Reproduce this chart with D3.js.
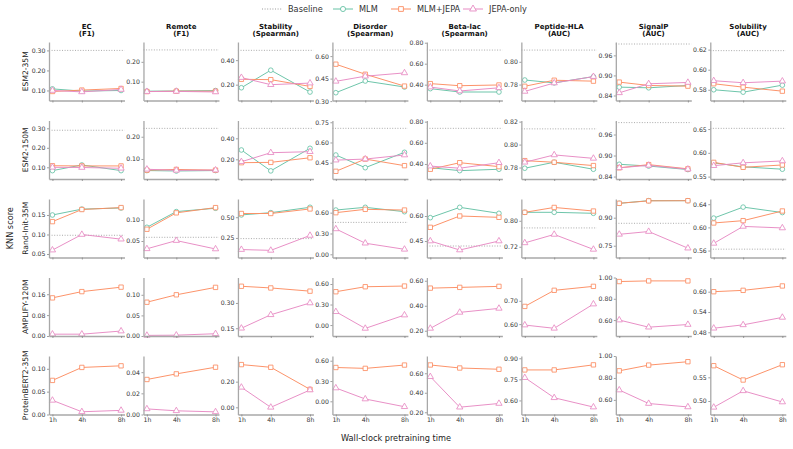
<!DOCTYPE html>
<html><head><meta charset="utf-8">
<script src="https://cdn.jsdelivr.net/npm/d3@7"></script>
<style>body{margin:0;background:#fff}svg{display:block}text{font-family:"DejaVu Sans",sans-serif}</style>
</head><body><svg id="c" width="793" height="449"></svg>
<script>
const tasks = ["EC","Remote","Stability","Disorder","Beta-lac","Peptide-HLA","SignalP","Solubility"];
const metrics = ["(F1)","(F1)","(Spearman)","(Spearman)","(Spearman)","(AUC)","(AUC)","(AUC)"];
const models = ["ESM2-35M","ESM2-150M","Rand-Init-35M","AMPLIFY-120M","ProteinBERT2-35M"];
const hours = [1,4,8];
const hourLabels = ["1h","4h","8h"];
const seriesNames = ["MLM","MLM+JEPA","JEPA-only"];

// values [model][task][hour]
const mlm = [
 [[0.108,0.097,0.100],[0.052,0.053,0.055],[0.175,0.318,0.140],[0.356,0.434,0.394],[0.362,0.330,0.330],[0.784,0.7815,0.787],[0.865,0.863,0.870],[0.580,0.5776,0.5846]],
 [[0.083,0.112,0.083],[0.048,0.046,0.048],[0.289,0.090,0.305],[0.507,0.413,0.527],[0.365,0.337,0.350],[0.7794,0.7846,0.7785],[0.875,0.870,0.860],[0.579,0.5706,0.5656]],
 [[0.150,0.165,0.168],[0.0826,0.120,0.128],[0.528,0.555,0.620],[0.638,0.677,0.614],[0.590,0.652,0.616],[0.826,0.826,0.823],[0.977,0.991,0.991],[0.616,0.635,0.6256]],
 null,
 null
];
const mlmJepa = [
 [[0.095,0.102,0.110],[0.050,0.052,0.052],[0.244,0.241,0.186],[0.546,0.479,0.400],[0.410,0.390,0.397],[0.7785,0.7838,0.783],[0.880,0.870,0.868],[0.586,0.5826,0.5786]],
 [[0.108,0.107,0.107],[0.0497,0.053,0.050],[0.168,0.171,0.215],[0.386,0.477,0.428],[0.350,0.412,0.375],[0.786,0.7846,0.7817],[0.865,0.874,0.862],[0.580,0.5696,0.5745]],
 [[0.133,0.164,0.169],[0.078,0.117,0.1295],[0.545,0.545,0.600],[0.600,0.648,0.638],[0.532,0.600,0.592],[0.826,0.841,0.830],[0.977,0.990,0.991],[0.6076,0.6116,0.6283]],
 [[0.146,0.170,0.187],[0.082,0.100,0.118],[0.399,0.389,0.370],[0.487,0.560,0.570],[0.541,0.547,0.555],[0.676,0.745,0.762],[0.962,0.968,0.968],[0.600,0.604,0.617]],
 [[0.0746,0.103,0.1065],[0.0331,0.0384,0.0447],[0.333,0.312,0.140],[0.500,0.487,0.536],[0.685,0.654,0.641],[0.817,0.817,0.853],[0.865,0.917,0.948],[0.5745,0.5443,0.5766]]
];
const jepaOnly = [
 [[0.100,0.093,0.105],[0.050,0.051,0.048],[0.258,0.200,0.213],[0.432,0.466,0.488],[0.377,0.340,0.370],[0.774,0.7814,0.787],[0.848,0.875,0.879],[0.589,0.587,0.5886]],
 [[0.100,0.099,0.095],[0.0538,0.049,0.050],[0.177,0.263,0.273],[0.469,0.477,0.507],[0.380,0.360,0.412],[0.7846,0.791,0.788],[0.865,0.872,0.861],[0.573,0.579,0.583]],
 [[0.060,0.100,0.088],[0.0314,0.051,0.031],[0.110,0.100,0.280],[0.366,0.160,0.072],[0.450,0.396,0.450],[0.732,0.758,0.712],[0.811,0.826,0.737],[0.5724,0.6017,0.599]],
 [[0.007,0.007,0.019],[0.0015,0.002,0.0055],[0.150,0.230,0.300],[0.195,-0.049,0.146],[0.219,0.347,0.379],[0.596,0.582,0.686],[0.600,0.533,0.558],[0.492,0.502,0.524]],
 [[0.031,0.006,0.009],[0.0053,0.0035,0.0025],[0.156,0.000,0.135],[0.197,0.034,-0.080],[0.565,0.252,0.290],[0.762,0.619,0.553],[0.690,0.567,0.536],[0.4867,0.5215,0.4979]]
];
const baseline = [
 [0.300,0.260,0.480,0.640,0.730,0.8103,0.994,0.619],
 [0.290,0.2376,0.495,0.705,0.737,0.8137,0.994,0.6515],
 [0.098,0.0588,0.242,0.460,0.420,0.778,0.870,0.5624],
 null,
 null
];
const yLimits = [
 [[0.05,0.342],[0.005,0.300],[0.071,0.548],[0.304,0.694],[0.249,0.807],[0.766,0.8174],[0.825,1.0],[0.5693,0.6276]],
 [[0.040,0.340],[0.010,0.273],[0.0125,0.570],[0.329,0.763],[0.258,0.811],[0.770,0.821],[0.833,1.0],[0.545,0.668]],
 [[0.041,0.191],[0.0107,0.150],[0.014,0.720],[-0.046,0.797],[0.351,0.702],[0.687,0.867],[0.687,1.0],[0.548,0.649]],
 [[0.0,0.224],[0.0,0.142],[0.104,0.451],[-0.160,0.695],[0.158,0.626],[0.549,0.800],[0.450,1.0],[0.469,0.642]],
 [[0.0,0.128],[0.0,0.0553],[-0.056,0.400],[-0.195,0.670],[0.177,0.777],[0.500,0.916],[0.467,1.0],[0.4715,0.595]]
];
const yTicks = [
 [[0.10,0.20,0.30],[0.10,0.20],[0.20,0.40],[0.30,0.45,0.60],[0.40,0.60,0.80],[0.78,0.80],[0.84,0.90,0.96],[0.58,0.60,0.62]],
 [[0.10,0.20,0.30],[0.10,0.20],[0.20,0.40],[0.45,0.60,0.75],[0.40,0.60,0.80],[0.78,0.80,0.82],[0.84,0.90,0.96],[0.55,0.60,0.65]],
 [[0.05,0.10,0.15],[0.05,0.10],[0.25,0.50],[0.00,0.30,0.60],[0.45,0.60],[0.72,0.80],[0.75,0.90],[0.56,0.60,0.64]],
 [[0.00,0.08,0.16],[0.00,0.05,0.10],[0.15,0.30],[0.00,0.30,0.60],[0.20,0.40,0.60],[0.60,0.70],[0.60,0.80,1.00],[0.48,0.54,0.60]],
 [[0.00,0.05,0.10],[0.00,0.02,0.04],[0.00,0.20],[0.00,0.30,0.60],[0.20,0.40,0.60],[0.60,0.75,0.90],[0.60,0.80,1.00],[0.50,0.55]]
];

const colors = {"MLM":"#66c2a5","MLM+JEPA":"#fc8d62","JEPA-only":"#e78ac3"};
const markers = {"MLM":d3.symbolCircle,"MLM+JEPA":d3.symbolSquare,"JEPA-only":d3.symbolTriangle};
const markerSize = {"MLM":17,"MLM+JEPA":19,"JEPA-only":17};
const seriesData = {"MLM":mlm,"MLM+JEPA":mlmJepa,"JEPA-only":jepaOnly};

const svg = d3.select("#c");
const colX0 = 49, colStep = 94.47, panelW = 75.5;
const rowY0 = 42, rowStep = 78.5, panelH = 58.5;
const axisColor = "#a8a8a8", textColor = "#333";

// legend
const leg = svg.append("g");
const legItems = [
  {name:"Baseline", x:262},
  {name:"MLM", x:333},
  {name:"MLM+JEPA", x:391},
  {name:"JEPA-only", x:463}
];
legItems.forEach(it=>{
  const ly = 9;
  if (it.name==="Baseline"){
    leg.append("line").attr("x1",it.x).attr("x2",it.x+20).attr("y1",ly).attr("y2",ly)
      .attr("stroke","#999").attr("stroke-width",1).attr("stroke-dasharray","1,1.6");
  } else {
    leg.append("line").attr("x1",it.x).attr("x2",it.x+20).attr("y1",ly).attr("y2",ly)
      .attr("stroke",colors[it.name]).attr("stroke-width",1);
    leg.append("path").attr("d",d3.symbol(markers[it.name],markerSize[it.name]*1.2)())
      .attr("transform",`translate(${it.x+10},${ly})`)
      .attr("fill","#fff").attr("stroke",colors[it.name]).attr("stroke-width",0.9);
  }
  leg.append("text").attr("x",it.x+26).attr("y",ly+3).attr("font-size",8.2).attr("fill",textColor).text(it.name);
});

// column titles
tasks.forEach((t,c)=>{
  const cx = colX0 + c*colStep + panelW/2;
  svg.append("text").attr("x",cx).attr("y",28.5).attr("text-anchor","middle")
    .attr("font-size",7).attr("font-weight","bold").attr("fill","#111").text(t);
  svg.append("text").attr("x",cx).attr("y",36).attr("text-anchor","middle")
    .attr("font-size",7).attr("font-weight","bold").attr("fill","#111").text(metrics[c]);
});

// row labels
models.forEach((m,r)=>{
  const cy = rowY0 + r*rowStep + panelH/2;
  svg.append("text").attr("transform",`translate(28,${cy}) rotate(-90)`).attr("text-anchor","middle")
    .attr("font-size",7.6).attr("fill","#222").text(m);
});
svg.append("text").attr("transform",`translate(13,${rowY0 + 2*rowStep + panelH/2}) rotate(-90)`)
  .attr("text-anchor","middle").attr("font-size",8.2).attr("fill","#222").text("KNN score");
svg.append("text").attr("x",396).attr("y",441).attr("text-anchor","middle")
  .attr("font-size",8.2).attr("fill","#222").text("Wall-clock pretraining time");

const x = d3.scaleLinear().domain([0.65,8.35]).range([0,panelW]);

models.forEach((m,r)=>{
  tasks.forEach((t,c)=>{
    const g = svg.append("g").attr("transform",`translate(${colX0 + c*colStep},${rowY0 + r*rowStep})`);
    const y = d3.scaleLinear().domain(yLimits[r][c]).range([panelH,0]);
    if (baseline[r]){
      g.append("line").attr("x1",0).attr("x2",panelW)
        .attr("y1",y(baseline[r][c])).attr("y2",y(baseline[r][c]))
        .attr("stroke","#a0a0a0").attr("stroke-width",0.9).attr("stroke-dasharray","1,1.6");
    }
    seriesNames.forEach(s=>{
      const arr = seriesData[s][r];
      if (!arr) return;
      const vals = arr[c];
      const pts = hours.map((h,i)=>[h,vals[i]]);
      g.append("path").attr("d",d3.line().x(d=>x(d[0])).y(d=>y(d[1]))(pts))
        .attr("fill","none").attr("stroke",colors[s]).attr("stroke-width",1).attr("stroke-opacity",0.95);
      g.selectAll(null).data(pts).enter().append("path")
        .attr("d",d3.symbol(markers[s],markerSize[s])())
        .attr("transform",d=>`translate(${x(d[0])},${y(d[1])})`)
        .attr("fill","#fff").attr("stroke",colors[s]).attr("stroke-width",0.85);
    });
    // axes
    const ya = d3.axisLeft(y).tickValues(yTicks[r][c]).tickSize(2).tickSizeOuter(0).tickPadding(1.5).tickFormat(d3.format(".2f"));
    const yg = g.append("g").call(ya);
    const xa = d3.axisBottom(x).tickValues(hours).tickSize(2).tickSizeOuter(0).tickPadding(1.5)
      .tickFormat((d,i)=> r===models.length-1 ? hourLabels[i] : "");
    const xg = g.append("g").attr("transform",`translate(0,${panelH})`).call(xa);
    [yg,xg].forEach(a=>{
      a.select(".domain").attr("stroke",axisColor).attr("stroke-width",1.3);
      a.selectAll(".tick line").attr("stroke","#888").attr("stroke-width",0.8);
      a.selectAll(".tick text").attr("font-size",6.2).attr("fill",textColor).attr("font-family","DejaVu Sans, sans-serif");
    });
  });
});
</script></body></html>
